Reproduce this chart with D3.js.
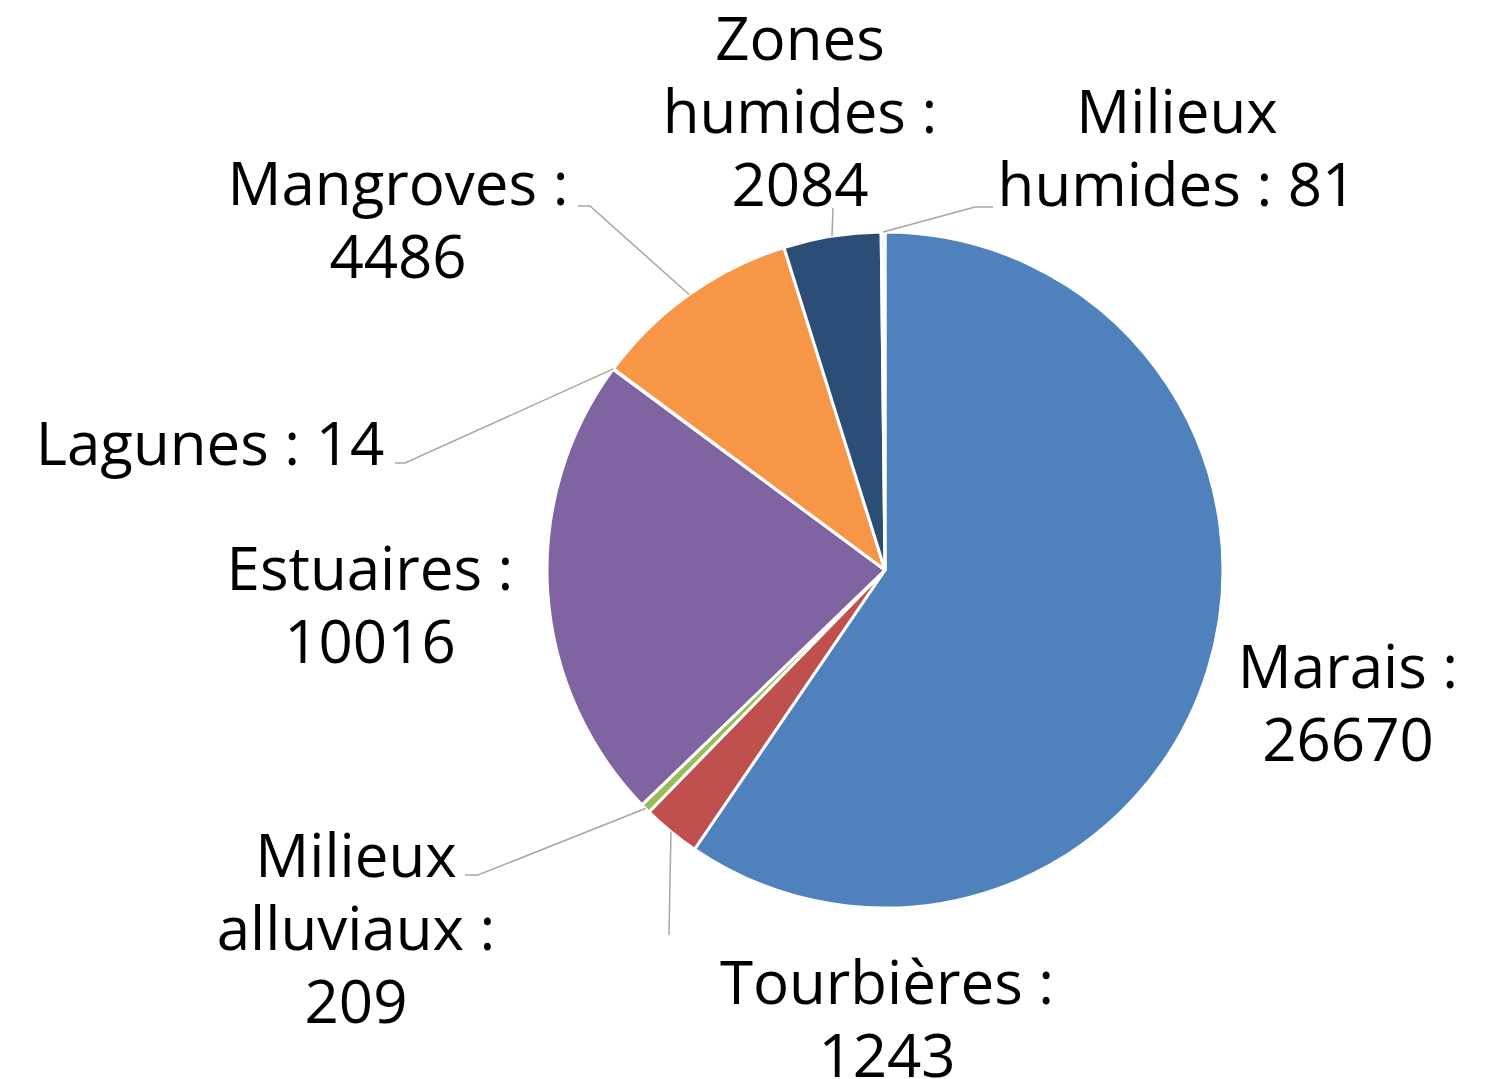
<!DOCTYPE html>
<html>
<head>
<meta charset="utf-8">
<script src="https://cdn.jsdelivr.net/npm/d3@7"></script>
<style>
  body { margin: 0; background: #fff; }
  svg text { font-family: "Open Sans", "Noto Sans", sans-serif; fill: #000; }
</style>
</head>
<body>
<svg id="pie_svg" width="1502" height="1079"></svg>
<script>
// data, clockwise from 12 o'clock
let categories = ["Marais", "Tourbières", "Milieux alluviaux", "Estuaires", "Lagunes", "Mangroves", "Zones humides", "Milieux humides"];
let values = [26670, 1243, 209, 10016, 14, 4486, 2084, 81];
let colors = ["#4f81bd", "#c0504d", "#9bbb59", "#8064a2", "#4bacc6", "#f79646", "#2c4d75", "#e4ebf5"];
// how each label breaks into lines
let labelLines = [
  ["Marais :", "26670"],
  ["Tourbières :", "1243"],
  ["Milieux", "alluviaux :", "209"],
  ["Estuaires :", "10016"],
  ["Lagunes : 14"],
  ["Mangroves :", "4486"],
  ["Zones", "humides :", "2084"],
  ["Milieux", "humides : 81"]
];

// layout: label centre x, first baseline y, leader bend point and end (null = no leader)
let labelLayout = [
  {x: 1348, y: 688, leader: null},
  {x: 887, y: 1004, leader: [[669, 935]]},
  {x: 356, y: 877, leader: [[478, 875], [465, 875]]},
  {x: 370, y: 590, leader: null},
  {x: 210, y: 465, leader: [[405, 463], [395, 463]]},
  {x: 398, y: 205, leader: [[590, 206], [578, 206]]},
  {x: 800, y: 60, leader: [[833, 208]]},
  {x: 1177, y: 133, leader: [[975, 207], [993, 207]]}
];

let cx = 885, cy = 570, radius = 338;
let fontSize = 60, lineHeight = 73;

let data = categories.map((c, i) => ({name: c, value: values[i], i: i}));

let pie = d3.pie().value(d => d.value).sort(null);
let arcs = pie(data);
let arc = d3.arc().innerRadius(0).outerRadius(radius);

let svg = d3.select("#pie_svg");
let g = svg.append("g").attr("transform", `translate(${cx}, ${cy})`);

g.selectAll("path.slice")
  .data(arcs)
  .enter().append("path")
  .attr("class", "slice")
  .attr("d", arc)
  .attr("fill", d => colors[d.data.i])
  .attr("stroke", "#fff")
  .attr("stroke-width", 3)
  .attr("stroke-linejoin", "round");

// leader lines start on the rim at each slice's mid angle
arcs.forEach(a => {
  let lay = labelLayout[a.data.i];
  if (!lay.leader) return;
  let mid = (a.startAngle + a.endAngle) / 2;
  let start = [cx + radius * Math.sin(mid), cy - radius * Math.cos(mid)];
  let pts = [start].concat(lay.leader);
  svg.append("path")
    .attr("fill", "none")
    .attr("stroke", "#a6a6a6")
    .attr("stroke-width", 1.5)
    .attr("d", d3.line()(pts));
});

// labels
labelLines.forEach((lines, i) => {
  let lay = labelLayout[i];
  let t = svg.append("text")
    .attr("text-anchor", "middle")
    .attr("font-size", fontSize);
  lines.forEach((l, j) => {
    t.append("tspan")
      .attr("x", lay.x)
      .attr("y", lay.y + j * lineHeight)
      .text(l);
  });
});
</script>
</body>
</html>
